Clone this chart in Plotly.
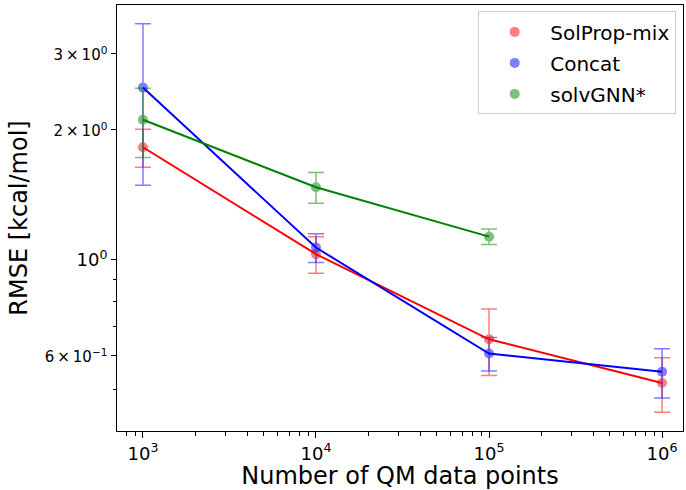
import plotly.graph_objects as go

# Data
n_points = [1e3, 1e4, 1e5, 1e6]
solprop_rmse = [1.823, 1.031, 0.655, 0.519]
solprop_err = [0.184, 0.100, 0.115, 0.075]
concat_rmse = [2.505, 1.068, 0.607, 0.551]
concat_err = [1.017, 0.082, 0.054, 0.072]
solvgnn_x = [1e3, 1e4, 1e5]
solvgnn_rmse = [2.110, 1.473, 1.132]
solvgnn_err = [0.385, 0.120, 0.047]

x_tickvals = [1e3, 1e4, 1e5, 1e6]
x_ticktext = ["10<sup>3</sup>", "10<sup>4</sup>", "10<sup>5</sup>", "10<sup>6</sup>"]
y_tickvals = [0.6, 1.0, 2.0, 3.0]
SM = "<span style='font-size:15px'>{}</span>"
y_ticktext = [
    SM.format("6\u2009×\u200910<sup>−1</sup>"),
    "10<sup>0</sup>",
    SM.format("2\u2009×\u200910<sup>0</sup>"),
    SM.format("3\u2009×\u200910<sup>0</sup>"),
]

series = [
    ("SolProp-mix", n_points, solprop_rmse, solprop_err, "#ff0000"),
    ("Concat", n_points, concat_rmse, concat_err, "#0000ff"),
    ("solvGNN*", solvgnn_x, solvgnn_rmse, solvgnn_err, "#008000"),
]

fig = go.Figure()
for name, xs, ys, es, col in series:
    fig.add_trace(go.Scatter(
        x=xs, y=ys, mode="markers", name=name, legendgroup=name,
        marker=dict(color=col, size=10),
        error_y=dict(type="data", array=es, visible=True, color=col,
                     thickness=1.5, width=8),
        opacity=0.5,
    ))
for name, xs, ys, es, col in series:
    fig.add_trace(go.Scatter(
        x=xs, y=ys, mode="lines", showlegend=False, legendgroup=name,
        line=dict(color=col, width=2), hoverinfo="skip",
    ))

x_minor = [m * 10 ** d for d in [2, 3, 4, 5] for m in range(2, 10)]
y_minor = [0.4, 0.5, 0.7, 0.8, 0.9]

fig.update_layout(
    width=686, height=490,
    margin=dict(l=117, r=3, t=5, b=59),
    plot_bgcolor="white", paper_bgcolor="white",
    font=dict(family="DejaVu Sans", color="black", size=18),
    legend=dict(x=0.988, y=0.985, xanchor="right", yanchor="top",
                bordercolor="#cccccc", borderwidth=1, bgcolor="white",
                font=dict(size=20), itemwidth=61, tracegroupgap=2),
    xaxis=dict(
        type="log", range=[2.850, 6.121],
        tickvals=x_tickvals, ticktext=x_ticktext,
        ticks="outside", ticklen=6, tickwidth=1, tickcolor="black",
        showline=True, linecolor="black", linewidth=1, mirror=True,
        showgrid=False, zeroline=False,
        minor=dict(tickvals=x_minor, ticks="outside", ticklen=3.5,
                   tickwidth=0.8, tickcolor="black", showgrid=False),
        title=dict(text="Number of QM data points", font=dict(size=24), standoff=0),
    ),
    yaxis=dict(
        type="log", range=[-0.396, 0.590],
        tickvals=y_tickvals, ticktext=y_ticktext,
        ticks="outside", ticklen=5, tickwidth=1, tickcolor="black",
        showline=True, linecolor="black", linewidth=1, mirror=True,
        showgrid=False, zeroline=False,
        minor=dict(tickvals=y_minor, ticks="outside", ticklen=3.5,
                   tickwidth=0.8, tickcolor="black", showgrid=False),
        title=dict(text="RMSE [kcal/mol]", font=dict(size=24), standoff=10),
    ),
)

fig.write_html("out.html")
